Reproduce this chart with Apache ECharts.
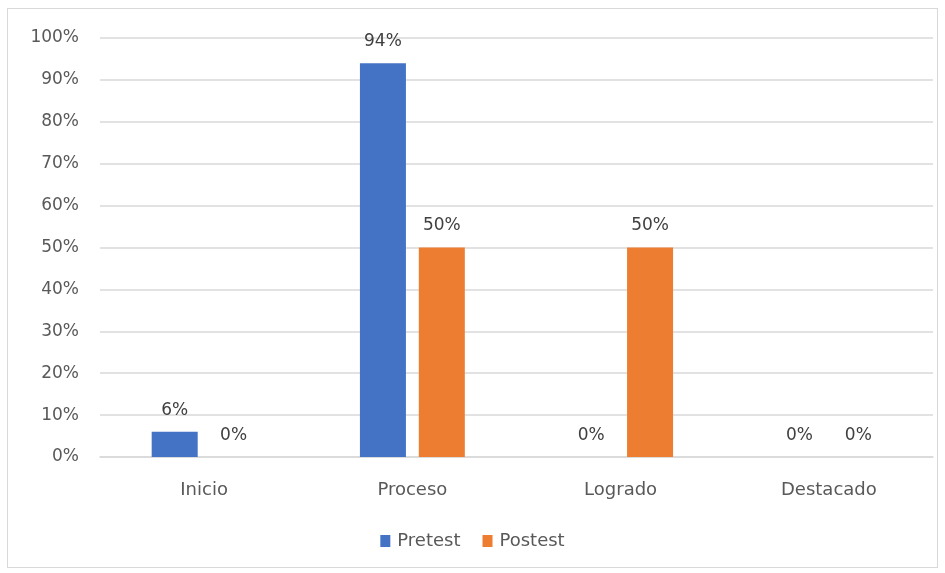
<!DOCTYPE html>
<html><head><meta charset="utf-8">
<script src="https://cdn.jsdelivr.net/npm/echarts@6/dist/echarts.min.js"></script>
<style>html,body{margin:0;padding:0;background:#fff}#c{width:945px;height:573px}
#frame{position:absolute;left:7px;top:8px;width:931px;height:560px;border:1px solid #d9d9d9;box-sizing:border-box;pointer-events:none}</style>
</head><body><div id="c"></div><div id="frame"></div>
<script>
const categories = ['Inicio', 'Proceso', 'Logrado', 'Destacado'];
const pretest = [6, 94, 0, 0];
const postest = [0, 50, 50, 0];
const yTicks = [0, 10, 20, 30, 40, 50, 60, 70, 80, 90, 100];

const chart = echarts.init(document.getElementById('c'));
const font = 'DejaVu Sans, sans-serif';
const lbl = {show: true, position: 'top', formatter: p => p.value + '%', color: '#404040', fontSize: 17, fontFamily: font, distance: 13};
chart.setOption({
  animation: false,
  grid: {left: 100, right: 12, top: 38, bottom: 116, containLabel: false},
  legend: {bottom: 18, left: 'center', itemWidth: 10, itemHeight: 12, itemGap: 22, icon: 'rect',
    textStyle: {color: '#595959', fontSize: 18, fontFamily: font, padding: [0, 0, 0, 2]}, data: ['Pretest', 'Postest']},
  xAxis: {type: 'category', data: categories,
    axisLine: {lineStyle: {color: '#d9d9d9', width: 1.5}}, axisTick: {show: false},
    axisLabel: {color: '#595959', fontSize: 18, fontFamily: font, margin: 24}},
  yAxis: {type: 'value', min: yTicks[0], max: yTicks[yTicks.length - 1], interval: 10,
    axisLabel: {formatter: v => v + '%', color: '#595959', fontSize: 17, fontFamily: font, margin: 21},
    splitLine: {lineStyle: {color: '#d9d9d9', width: 1.5}}, axisLine: {show: false}, axisTick: {show: false}},
  series: [
    {name: 'Pretest', type: 'bar', data: pretest, barWidth: 46, barGap: '28%', itemStyle: {color: '#4472C4'}, label: lbl},
    {name: 'Postest', type: 'bar', data: postest, barWidth: 46, itemStyle: {color: '#ED7D31'}, label: lbl}
  ]
});
</script></body></html>
